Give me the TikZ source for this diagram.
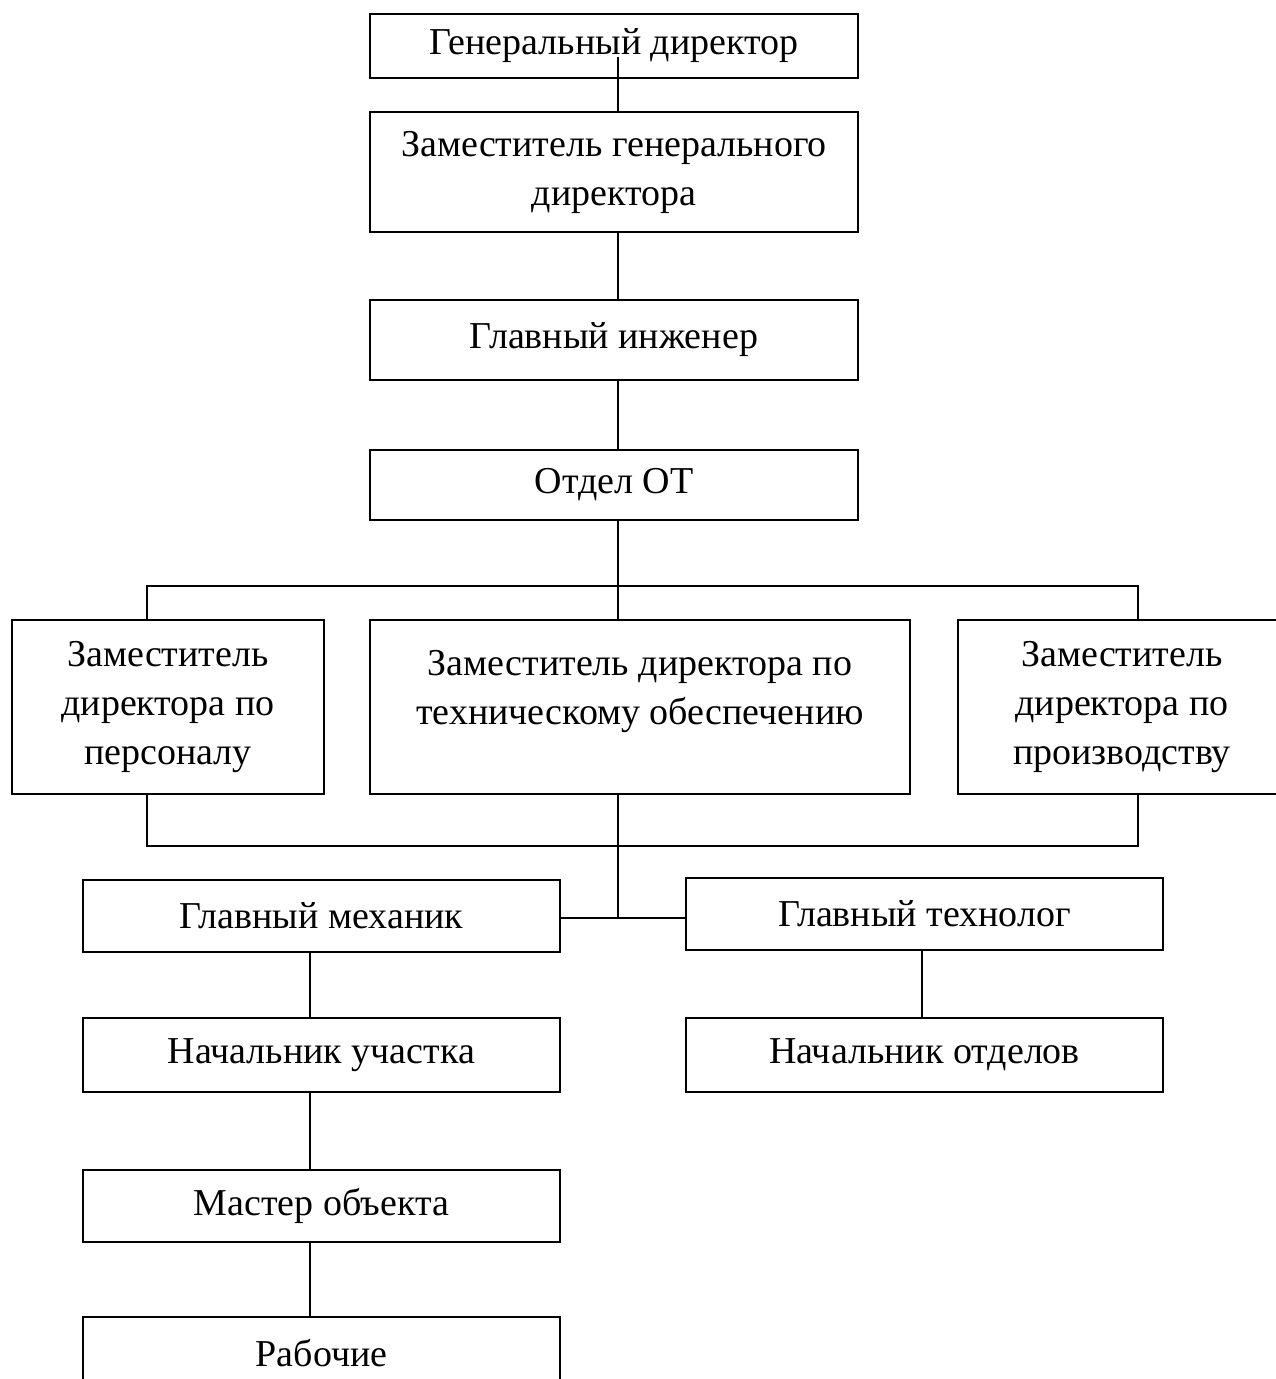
\documentclass[tikz,border=0pt]{standalone}
\usepackage{fontspec}
\setmainfont{Liberation Serif}
\begin{document}
\begin{tikzpicture}[x=1pt,y=-1pt,
  box/.style={draw, line width=1.2pt, rectangle, inner sep=0pt, outer sep=0pt, align=center,
     font=\fontsize{38}{49}\selectfont},
  conn/.style={line width=1.5pt},
  txt/.style={align=center, inner sep=0pt, font=\fontsize{38}{49}\selectfont}]
\clip (0,0) rectangle (1276,1379);
\fill[white] (0,0) rectangle (1276,1379);
% boxes
\node[box, minimum width=488pt, minimum height=64pt] (gd) at (614,46) {Генеральный директор};
\node[box, minimum width=488pt, minimum height=120pt] (zgd) at (614,172) {Заместитель генерального\\директора};
\node[box, minimum width=488pt, minimum height=80pt] (gi) at (614,340) {Главный инженер};
\node[box, minimum width=488pt, minimum height=70pt] (ot) at (614,485) {Отдел ОТ};
\node[box, minimum width=312pt, minimum height=174pt] (zper) at (168,707) {Заместитель\\директора по\\персоналу};
\node[box, minimum width=540pt, minimum height=174pt,
  label={[txt, yshift=15pt]center:{Заместитель директора по\\техническому обеспечению}}] (zteh) at (640,707) {};
\node[box, minimum width=328pt, minimum height=174pt] (zpro) at (1122,707) {Заместитель\\директора по\\производству};
\node[box, minimum width=477pt, minimum height=72pt] (mech) at (321.5,916) {Главный механик};
\node[box, minimum width=477pt, minimum height=72pt] (tech) at (924.5,914) {Главный технолог};
\node[box, minimum width=477pt, minimum height=74pt] (nu) at (321.5,1055) {Начальник участка};
\node[box, minimum width=477pt, minimum height=74pt] (no) at (924.5,1055) {Начальник отделов};
\node[box, minimum width=477pt, minimum height=72pt] (mo) at (321.5,1206) {Мастер объекта};
\node[box, minimum width=477pt, minimum height=73pt] (rab) at (321.5,1353.5) {Рабочие};
% coordinates
\coordinate (gdin) at (618,57);
\coordinate (c) at (618,0);
\coordinate (busL) at (147,586);
\coordinate (busR) at (1138,586);
\coordinate (lowL) at (147,846);
\coordinate (lowR) at (1138,846);
\coordinate (j) at (618,918);
\coordinate (lc) at (310,0);
\coordinate (rc) at (922,0);
% connectors
\draw[conn] (gdin) -- (zgd.north -| c);
\draw[conn] (zgd.south -| c) -- (gi.north -| c);
\draw[conn] (gi.south -| c) -- (ot.north -| c);
\draw[conn] (ot.south -| c) -- (zteh.north -| c);
\draw[conn] (zper.north -| busL) -- (busL) -- (busR) -- (zpro.north -| busR);
\draw[conn] (zper.south -| lowL) -- (lowL) -- (lowR) -- (zpro.south -| lowR);
\draw[conn] (zteh.south -| c) -- (j);
\draw[conn] (mech.east |- j) -- (tech.west |- j);
\draw[conn] (mech.south -| lc) -- (nu.north -| lc);
\draw[conn] (nu.south -| lc) -- (mo.north -| lc);
\draw[conn] (mo.south -| lc) -- (rab.north -| lc);
\draw[conn] (tech.south -| rc) -- (no.north -| rc);
\end{tikzpicture}
\end{document}
